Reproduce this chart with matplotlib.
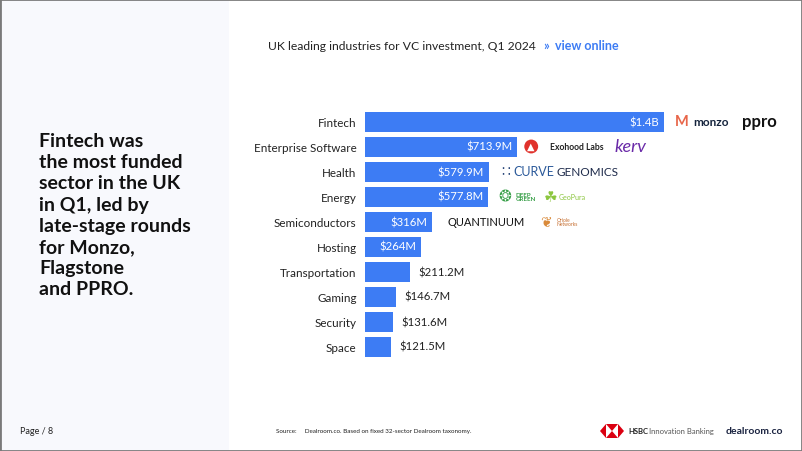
import matplotlib
matplotlib.use("Agg")
import matplotlib.pyplot as plt
from matplotlib.patches import Rectangle, Polygon

plt.rcParams['font.family'] = ['Lato', 'DejaVu Sans']

# data ($M)
sectors = ['Fintech', 'Enterprise Software', 'Health', 'Energy', 'Semiconductors',
           'Hosting', 'Transportation', 'Gaming', 'Security', 'Space']
amounts = [1400, 713.9, 579.9, 577.8, 316, 264, 211.2, 146.7, 131.6, 121.5]
labels = ['$1.4B', '$713.9M', '$579.9M', '$577.8M', '$316M', '$264M',
          '$211.2M', '$146.7M', '$131.6M', '$121.5M']
inside = [True, True, True, True, True, True, False, False, False, False]

W, H = 802, 452
BLUE = '#3d7cf4'
DARK = '#222222'

fig = plt.figure(figsize=(W / 100, H / 100), dpi=100)
fig.patch.set_facecolor('white')

def fx(px):
    return px / W

def fy(py):
    return 1 - py / H

# left grey panel + frame
fig.patches.append(Rectangle((0, 0), fx(229), 1, transform=fig.transFigure,
                             facecolor='#f8f9fd', edgecolor='none', zorder=0))
fig.patches.append(Rectangle((0, 0), 1, 1, transform=fig.transFigure,
                             facecolor='none', edgecolor='#7a7a7a', lw=2.0, zorder=10))

# headline on the left
fig.text(fx(39), fy(133), 'Fintech was\nthe most funded\nsector in the UK\nin Q1, led by\n'
         'late-stage rounds\nfor Monzo,\nFlagstone\nand PPRO.',
         ha='left', va='top', fontsize=14, fontweight='bold', color='#111111',
         linespacing=1.3)

# title
fig.text(fx(268), fy(46), 'UK leading industries for VC investment, Q1 2024',
         ha='left', va='center', fontsize=8.7, color=DARK)
fig.text(fx(543), fy(46), '»', ha='left', va='center', fontsize=9, color=BLUE,
         fontweight='bold')
fig.text(fx(555), fy(46), 'view online', ha='left', va='center', fontsize=9,
         color=BLUE, fontweight='bold')

# bars
ax = fig.add_axes([fx(365), fy(360), fx(664) - fx(365), (360 - 110) / H])
y = range(len(sectors))
bars = ax.barh(y, amounts, height=0.8, color=BLUE)
ax.set_xlim(0, 1400)
ax.set_ylim(len(sectors) - 0.5, -0.5)
ax.set_yticks(list(y))
ax.set_yticklabels(sectors, fontsize=8.4, color=DARK)
ax.tick_params(axis='y', length=0, pad=6)
ax.set_xticks([])
for s in ax.spines.values():
    s.set_visible(False)
ax.patch.set_alpha(0)

for i, (v, lab, ins) in enumerate(zip(amounts, labels, inside)):
    if ins:
        ax.annotate(lab, (v, i), xytext=(-5, 0), textcoords='offset pixels',
                    ha='right', va='center', fontsize=8.2, color='white')
    else:
        ax.annotate(lab, (v, i), xytext=(8, 0), textcoords='offset pixels',
                    ha='left', va='center', fontsize=8.2, color=DARK)

# company "logos" as text, placed after the bars
def logo(i, dx, text, **kw):
    ax.annotate(text, (amounts[i], i), xytext=(dx, 0), textcoords='offset pixels',
                ha='left', va='center', annotation_clip=False, **kw)

logo(0, 11, 'M', fontsize=10.5, fontweight='bold', color='#e8664a')
logo(0, 29, 'monzo', fontsize=8.5, fontweight='bold', color='#14233c')
logo(0, 78, 'ppro', fontsize=12, fontweight='bold', color='#111111')
logo(1, 10, '\u25B2', fontsize=7, color='white',
     bbox=dict(boxstyle='circle,pad=0.25', fc='#e0322c', ec='none'))
logo(1, 33, 'Exohood Labs', fontsize=6.2, fontweight='bold', color='#222222')
logo(1, 97, 'kerv', fontsize=13, color='#6a2aa8', style='italic')
logo(2, 12, '\u2237', fontsize=10, color='#2c4a7c')
logo(2, 25, 'CURVE', fontsize=9, color='#2c5a9a')
logo(2, 68, 'GENOMICS', fontsize=8.5, color='#1d2a4a')
logo(3, 10, '\u2742', fontsize=11, color='#3aa04a')
logo(3, 27, 'DEEP\nGREEN', fontsize=4.5, fontweight='bold', color='#3aa04a',
     linespacing=0.9)
logo(3, 55, '\u2618', fontsize=11, color='#8cc63f')
logo(3, 70, 'GeoPura', fontsize=5, color='#8cc63f')
logo(4, 15, 'QUANTINUUM', fontsize=8, color='#111111')
logo(4, 108, '\u2766', fontsize=10, color='#d98a3a')
logo(4, 124, 'Oriole\nNetworks', fontsize=3.5, color='#c46a2a', linespacing=1.0)

# footer
fig.text(fx(20), fy(432), 'Page / 8', ha='left', va='center', fontsize=6.5, color=DARK)
fig.text(fx(276), fy(432), 'Source:     Dealroom.co. Based on fixed 32-sector Dealroom taxonomy.',
         ha='left', va='center', fontsize=4.5, color=DARK)

# HSBC hexagon mark
cx, cy = 612, 432
red = '#db0011'
hex_pts = [(cx - 12, cy), (cx - 6, cy - 7), (cx + 6, cy - 7), (cx + 12, cy),
           (cx + 6, cy + 7), (cx - 6, cy + 7)]
fig.patches.append(Polygon([(fx(a), fy(b)) for a, b in hex_pts], closed=True,
                           transform=fig.transFigure, fc=red, ec='none', zorder=5))
for pts in ([(cx - 6, cy - 7), (cx - 6, cy + 7), (cx, cy)],
            [(cx + 6, cy - 7), (cx + 6, cy + 7), (cx, cy)]):
    fig.patches.append(Polygon([(fx(a), fy(b)) for a, b in pts], closed=True,
                               transform=fig.transFigure, fc='white', ec='none', zorder=6))
fig.text(fx(628), fy(432), 'HSBC', ha='left', va='center', fontsize=5.5, fontweight='bold',
         color='#222222')
fig.text(fx(649), fy(432), 'Innovation Banking', ha='left', va='center', fontsize=5.5,
         color='#555555')
fig.text(fx(726), fy(432), 'dealroom.co', ha='left', va='center', fontsize=7.5,
         fontweight='bold', color='#1a2340')

fig.savefig('out.png', dpi=100)
